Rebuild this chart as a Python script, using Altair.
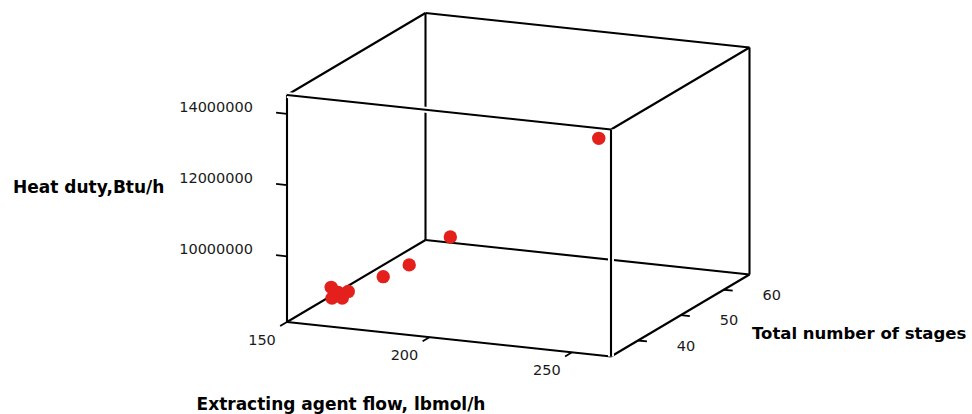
import altair as alt
import pandas as pd

# ---------------- data ----------------
flow = [257.0, 173.0, 166.7, 161.5, 155.1, 152.6, 150.3, 151.5, 154.5]
stages = [35.3, 56.5, 51.1, 48.5, 44.6, 43.9, 43.8, 43.2, 43.6]
duty = [14110000, 9110000, 8660000, 8470000, 8280000, 8280000, 8410000, 8160000, 8160000]

flow_ticks = [150, 200, 250]
stage_ticks = [40, 50, 60]
duty_ticks = [10000000, 12000000, 14000000]

flow_range = [150.0, 263.7]
stage_range = [33.7, 66.0]
duty_range = [8154000, 14530000]

title_flow = "Extracting agent flow, lbmol/h"
title_stages = "Total number of stages"
title_duty = "Heat duty,Btu/h"

# ---------------- projection (layout) ----------------
W, H = 972, 414
O = (287.0, 322.0)      # screen origin of (flow min, stages min, duty min)
EX = (324.0, 34.5)      # screen vector of full flow range
EY = (138.5, -82.0)     # screen vector of full stages range
EZ = (0.0, -227.0)      # screen vector of full duty range
FONT = "DejaVu Sans"
RED = "#e3201b"
LW = 2.1


def frac(field, rng):
    return f"((datum.{field}-({rng[0]}))/({rng[1]-rng[0]}))"


def proj(a, b, c):
    fa, fb, fc = frac(a, flow_range), frac(b, stage_range), frac(c, duty_range)
    px = f"{O[0]}+{fa}*{EX[0]}+{fb}*{EY[0]}+{fc}*{EZ[0]}"
    py = f"{O[1]}+{fa}*{EX[1]}+{fb}*{EY[1]}+{fc}*{EZ[1]}"
    return px, py


xs = alt.Scale(domain=[0, W], nice=False, zero=False)
ys = alt.Scale(domain=[0, H], reverse=True, nice=False, zero=False)


def X(f):
    return alt.X(f"{f}:Q", scale=xs, axis=None)


def Y(f):
    return alt.Y(f"{f}:Q", scale=ys, axis=None)


# ---------------- box edges ----------------
F0, F1 = flow_range
S0, S1 = stage_range
D0, D1 = duty_range
edge_rows = [
    # back face
    (F0, S1, D0, F1, S1, D0, "back"),
    (F0, S1, D1, F1, S1, D1, "back"),
    (F0, S1, D0, F0, S1, D1, "back"),
    (F1, S1, D0, F1, S1, D1, "back"),
    # depth edges
    (F0, S0, D0, F0, S1, D0, "back"),
    (F1, S0, D0, F1, S1, D0, "back"),
    (F0, S0, D1, F0, S1, D1, "back"),
    (F1, S0, D1, F1, S1, D1, "back"),
    # front face
    (F0, S0, D0, F1, S0, D0, "back"),
    (F0, S0, D0, F0, S0, D1, "back"),
    (F0, S0, D1, F1, S0, D1, "front"),
    (F1, S0, D0, F1, S0, D1, "front"),
]
edges = pd.DataFrame(edge_rows, columns=["a0", "b0", "c0", "a1", "b1", "c1", "layer"])
p0x, p0y = proj("a0", "b0", "c0")
p1x, p1y = proj("a1", "b1", "c1")

edge_base = alt.Chart(edges).transform_calculate(x0=p0x, y0=p0y, x1=p1x, y1=p1y)
edge_enc = dict(x=X("x0"), y=Y("y0"), x2=alt.X2("x1:Q"), y2=alt.Y2("y1:Q"))

back_edges = edge_base.transform_filter("datum.layer == 'back'").mark_rule(
    color="black", strokeWidth=LW).encode(**edge_enc)
halo = edge_base.transform_filter("datum.layer == 'front'").mark_rule(
    color="white", strokeWidth=6).encode(**edge_enc)
front_edges = edge_base.transform_filter("datum.layer == 'front'").mark_rule(
    color="black", strokeWidth=LW).encode(**edge_enc)

# ---------------- ticks ----------------
ux, uy = EX[0] / (EX[0] ** 2 + EX[1] ** 2) ** 0.5, EX[1] / (EX[0] ** 2 + EX[1] ** 2) ** 0.5
vx, vy = EY[0] / (EY[0] ** 2 + EY[1] ** 2) ** 0.5, EY[1] / (EY[0] ** 2 + EY[1] ** 2) ** 0.5

duty_df = pd.DataFrame({"a": F0, "b": S0, "c": duty_ticks})
duty_df["label"] = [str(v) for v in duty_ticks]
flow_df = pd.DataFrame({"a": flow_ticks, "b": S0, "c": D0})
flow_df["label"] = [str(v) for v in flow_ticks]
stage_df = pd.DataFrame({"a": F1, "b": stage_ticks, "c": D0})
stage_df["label"] = [str(v) for v in stage_ticks]

bx, by = proj("a", "b", "c")


def tick_layer(df, dxv, dyv):
    return alt.Chart(df).transform_calculate(
        tx=bx, ty=by
    ).transform_calculate(
        ex=f"datum.tx+({dxv})", ey=f"datum.ty+({dyv})"
    ).mark_rule(color="black", strokeWidth=1.8).encode(
        x=X("tx"), y=Y("ty"), x2=alt.X2("ex:Q"), y2=alt.Y2("ey:Q"))


def label_layer(df, dx, dy, align):
    return alt.Chart(df).transform_calculate(tx=bx, ty=by).mark_text(
        font=FONT, fontSize=14.5, color="#1a1a1a", align=align,
        baseline="middle", dx=dx, dy=dy).encode(x=X("tx"), y=Y("ty"), text="label:N")


duty_ticks_l = tick_layer(duty_df, -11 * ux, -11 * uy)
flow_ticks_l = tick_layer(flow_df, -8 * vx, -8 * vy)
stage_ticks_l = tick_layer(stage_df, 9 * ux, 9 * uy)

duty_labels = label_layer(duty_df, -34, -6, "right")
flow_labels = label_layer(flow_df, -25, 19, "center")
stage_labels = label_layer(stage_df, 48, 6, "center")

# ---------------- points ----------------
pts_df = pd.DataFrame({"flow": flow, "stages": stages, "duty": duty})
qx, qy = proj("flow", "stages", "duty")
points = alt.Chart(pts_df).transform_calculate(px=qx, py=qy).mark_circle(
    size=180, color=RED, opacity=1).encode(x=X("px"), y=Y("py"))

# ---------------- axis titles ----------------
def title_layer(text, x, y, align, size):
    return alt.Chart(pd.DataFrame({"t": [text]})).mark_text(
        font=FONT, fontSize=size, fontWeight="bold", color="black",
        align=align, baseline="middle").encode(
        text="t:N", x=alt.value(x), y=alt.value(y))


t_duty = title_layer(title_duty, 13, 188, "left", 17)
t_flow = title_layer(title_flow, 341, 405, "center", 17)
t_stages = title_layer(title_stages, 752, 334, "left", 16.5)

chart = alt.layer(
    back_edges, halo, front_edges,
    duty_ticks_l, flow_ticks_l, stage_ticks_l,
    duty_labels, flow_labels, stage_labels,
    points, t_duty, t_flow, t_stages,
).properties(
    width=W, height=H, padding=0, autosize="none", background="white"
).configure_view(strokeWidth=0)

chart.save("out.html", embed_options={"renderer": "svg", "actions": False})
